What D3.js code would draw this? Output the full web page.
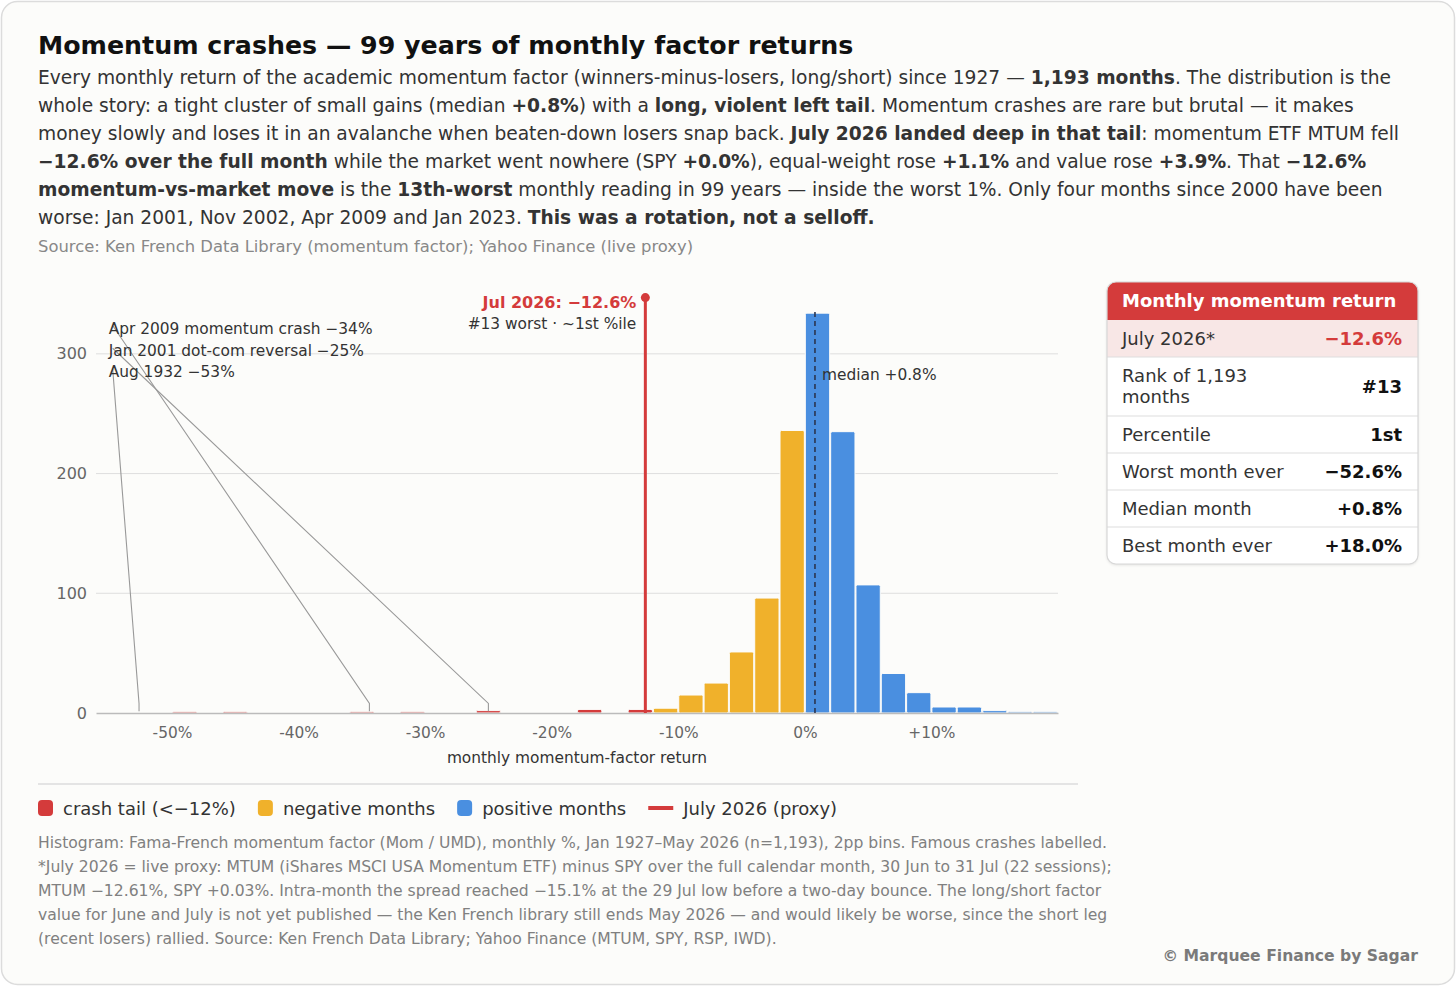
<!DOCTYPE html>
<html>
<head>
<meta charset="utf-8">
<script src="https://cdn.jsdelivr.net/npm/d3@7"></script>
<style>
  html, body { margin: 0; padding: 0; background: #ffffff; }
  svg { display: block; font-family: "DejaVu Sans", sans-serif; }
</style>
</head>
<body>
<div id="chart"></div>
<script>
// histogram data: lower edge of each 2pp bin, and month count
var binLows  = [-50, -46, -36, -32, -26, -18, -14, -12, -10, -8, -6, -4, -2,   0,   2,   4,  6,  8, 10, 12, 14, 16, 18];
var counts   = [  1,   1,   1,   1,   2,   3,   3,   4,  15, 25, 51, 96, 236, 334, 235, 107, 33, 17,  5,  5,  2,  1,  1];
var binWidth = 2;

var xTicks = [-50, -40, -30, -20, -10, 0, 10];
var xTickLabels = ["-50%", "-40%", "-30%", "-20%", "-10%", "0%", "+10%"];
var yTicks = [0, 100, 200, 300];

var medianValue = 0.8;
var julyValue = -12.6;

// famous crashes: label, value, label y (in counts)
var crashLabels = ["Apr 2009 momentum crash \u221234%", "Jan 2001 dot-com reversal \u221225%", "Aug 1932 \u221253%"];
var crashValues = [-34.4, -25.0, -52.6];
var crashLabelY = [317, 298, 281];

var tableLabels = ["July 2026*", "Rank of 1,193|months", "Percentile", "Worst month ever", "Median month", "Best month ever"];
var tableValues = ["\u221212.6%", "#13", "1st", "\u221252.6%", "+0.8%", "+18.0%"];

var legendLabels = ["crash tail (<\u221212%)", "negative months", "positive months", "July 2026 (proxy)"];

var RED = "#d43b3b", YELLOW = "#f0b12b", BLUE = "#4a8fe0";
var FS = 15.4; // chart text size

var W = 1456, H = 989;
var svg = d3.select("#chart").append("svg").attr("width", W).attr("height", H);

// card
svg.append("rect").attr("x", 1.5).attr("y", 1.5).attr("width", W - 3).attr("height", H - 6)
    .attr("rx", 16).attr("fill", "#fcfcfa").attr("stroke", "#dcdcdc").attr("stroke-width", 1.5);

// ---- header ----
svg.append("text").attr("x", 38).attr("y", 54)
    .attr("font-size", 25.3).attr("font-weight", "bold").attr("fill", "#111")
    .text("Momentum crashes \u2014 99 years of monthly factor returns");

var bodyLines = [
  [["Every monthly return of the academic momentum factor (winners-minus-losers, long/short) since 1927 \u2014 ", 0], ["1,193 months", 1], [". The distribution is the", 0]],
  [["whole story: a tight cluster of small gains (median ", 0], ["+0.8%", 1], [") with a ", 0], ["long, violent left tail", 1], [". Momentum crashes are rare but brutal \u2014 it makes", 0]],
  [["money slowly and loses it in an avalanche when beaten-down losers snap back. ", 0], ["July 2026 landed deep in that tail", 1], [": momentum ETF MTUM fell", 0]],
  [["\u221212.6% over the full month", 1], [" while the market went nowhere (SPY ", 0], ["+0.0%", 1], ["), equal-weight rose ", 0], ["+1.1%", 1], [" and value rose ", 0], ["+3.9%", 1], [". That ", 0], ["\u221212.6%", 1]],
  [["momentum-vs-market move", 1], [" is the ", 0], ["13th-worst", 1], [" monthly reading in 99 years \u2014 inside the worst 1%. Only four months since 2000 have been", 0]],
  [["worse: Jan 2001, Nov 2002, Apr 2009 and Jan 2023. ", 0], ["This was a rotation, not a selloff.", 1]]
];
bodyLines.forEach(function(segs, i) {
  var t = svg.append("text").attr("x", 38).attr("y", 84 + i * 28)
      .attr("font-size", 18.65).attr("fill", "#333");
  segs.forEach(function(s) {
    t.append("tspan").attr("font-weight", s[1] ? "bold" : "normal").text(s[0]);
  });
});

svg.append("text").attr("x", 38).attr("y", 252).attr("font-size", 16.4).attr("fill", "#888")
    .text("Source: Ken French Data Library (momentum factor); Yahoo Finance (live proxy)");

// ---- chart ----
var xScale = d3.scaleLinear().domain([-56, 20]).range([96, 1058]);
var yScale = d3.scaleLinear().domain([0, 350]).range([713, 294]);

var g = svg.append("g");

// gridlines
g.append("g").selectAll("line").data(yTicks.filter(function(d) { return d > 0; })).join("line")
    .attr("x1", xScale(-56)).attr("x2", xScale(20))
    .attr("y1", function(d) { return yScale(d); }).attr("y2", function(d) { return yScale(d); })
    .attr("stroke", "#dedede").attr("stroke-width", 1);

// y axis labels
var yAxis = g.append("g").attr("transform", "translate(" + (xScale(-56) - 9) + ",0)")
    .call(d3.axisLeft(yScale).tickValues(yTicks).tickSize(0).tickPadding(0));
yAxis.select(".domain").remove();
yAxis.selectAll("text").attr("font-size", 16).attr("fill", "#666").attr("font-family", "DejaVu Sans");

// bars
var bars = binLows.map(function(lo, i) { return {x0: lo, x1: lo + binWidth, n: counts[i]}; });
g.append("g").selectAll("rect").data(bars).join("rect")
    .attr("x", function(d) { return xScale(d.x0) + 0.5; })
    .attr("width", function(d) { return xScale(d.x1) - xScale(d.x0) - 1; })
    .attr("y", function(d) { return yScale(d.n); })
    .attr("height", function(d) { return yScale(0) - yScale(d.n); })
    .attr("rx", 1.5)
    .attr("stroke", "#fcfcfa").attr("stroke-width", 1)
    .attr("fill", function(d) { return d.x0 < -12 ? RED : (d.x0 < 0 ? YELLOW : BLUE); });

// x axis
var xAxis = g.append("g").attr("transform", "translate(0," + yScale(0) + ")")
    .call(d3.axisBottom(xScale).tickValues(xTicks).tickSize(0).tickPadding(14)
        .tickFormat(function(d, i) { return xTickLabels[i]; }));
xAxis.select(".domain").attr("stroke", "#bbb").attr("stroke-width", 1.5);
xAxis.selectAll("text").attr("font-size", FS).attr("fill", "#666").attr("font-family", "DejaVu Sans");

g.append("text").attr("x", (xScale(-56) + xScale(20)) / 2).attr("y", 763)
    .attr("text-anchor", "middle").attr("font-size", FS).attr("fill", "#333")
    .text("monthly momentum-factor return");

// median line
g.append("line").attr("x1", xScale(medianValue)).attr("x2", xScale(medianValue))
    .attr("y1", yScale(0)).attr("y2", yScale(337))
    .attr("stroke", "#2b3550").attr("stroke-width", 1.6).attr("stroke-dasharray", "5,4");
g.append("text").attr("x", xScale(medianValue) + 7).attr("y", yScale(278))
    .attr("font-size", FS).attr("fill", "#333").text("median +0.8%");

// crash annotations
crashValues.forEach(function(v, i) {
  var lx = xScale(-55.0), ly = yScale(crashLabelY[i]);
  g.append("polyline")
      .attr("points", [[lx + 4, ly - 8], [xScale(v), yScale(8)], [xScale(v), yScale(1.5)]].join(" "))
      .attr("fill", "none").attr("stroke", "#999").attr("stroke-width", 1.1);
  g.append("text").attr("x", lx).attr("y", ly).attr("font-size", FS).attr("fill", "#333").text(crashLabels[i]);
});

// July 2026 marker
var jx = xScale(julyValue);
g.append("line").attr("x1", jx).attr("x2", jx).attr("y1", yScale(0)).attr("y2", yScale(347))
    .attr("stroke", RED).attr("stroke-width", 3);
g.append("circle").attr("cx", jx).attr("cy", yScale(347)).attr("r", 4.5).attr("fill", RED);
g.append("text").attr("x", jx - 9).attr("y", yScale(338)).attr("text-anchor", "end")
    .attr("font-size", 16).attr("font-weight", "bold").attr("fill", RED).text("Jul 2026: \u221212.6%");
g.append("text").attr("x", jx - 9).attr("y", yScale(321)).attr("text-anchor", "end")
    .attr("font-size", FS).attr("fill", "#333").text("#13 worst \u00b7 ~1st %ile");

// separator
svg.append("line").attr("x1", 38).attr("x2", 1078).attr("y1", 784).attr("y2", 784)
    .attr("stroke", "#dcdcdc").attr("stroke-width", 1.5);

// legend
var legendColors = [RED, YELLOW, BLUE, RED];
var lg = svg.append("g").attr("transform", "translate(38,808)");
var lx0 = 0;
legendLabels.forEach(function(lab, i) {
  var item = lg.append("g").attr("transform", "translate(" + lx0 + ",0)");
  var sw;
  if (i < 3) {
    item.append("rect").attr("x", 0).attr("y", -8).attr("width", 15).attr("height", 16).attr("rx", 4)
        .attr("fill", legendColors[i]);
    sw = 15;
  } else {
    item.append("rect").attr("x", 0).attr("y", -2).attr("width", 25).attr("height", 4).attr("fill", legendColors[i]);
    sw = 25;
  }
  var t = item.append("text").attr("x", sw + 10).attr("y", 7).attr("font-size", 18).attr("fill", "#333").text(lab);
  lx0 += sw + 10 + t.node().getComputedTextLength() + 22;
});

// footnote
var notes = [
  "Histogram: Fama-French momentum factor (Mom / UMD), monthly %, Jan 1927\u2013May 2026 (n=1,193), 2pp bins. Famous crashes labelled.",
  "*July 2026 = live proxy: MTUM (iShares MSCI USA Momentum ETF) minus SPY over the full calendar month, 30 Jun to 31 Jul (22 sessions);",
  "MTUM \u221212.61%, SPY +0.03%. Intra-month the spread reached \u221215.1% at the 29 Jul low before a two-day bounce. The long/short factor",
  "value for June and July is not yet published \u2014 the Ken French library still ends May 2026 \u2014 and would likely be worse, since the short leg",
  "(recent losers) rallied. Source: Ken French Data Library; Yahoo Finance (MTUM, SPY, RSP, IWD)."
];
notes.forEach(function(n, i) {
  svg.append("text").attr("x", 38).attr("y", 848 + i * 24).attr("font-size", 15.6).attr("fill", "#808080").text(n);
});

svg.append("text").attr("x", 1418).attr("y", 961).attr("text-anchor", "end")
    .attr("font-size", 15.6).attr("font-weight", "bold").attr("fill", "#7a7a7a")
    .text("\u00a9 Marquee Finance by Sagar");

// ---- stats table ----
var tx = 1107, ty = 282, tw = 311, headH = 38;
var rowH = [37, 59, 37, 37, 37, 37];
var tH = headH + d3.sum(rowH);
var defs = svg.append("defs");
defs.append("clipPath").attr("id", "tclip").append("rect")
    .attr("x", tx).attr("y", ty).attr("width", tw).attr("height", tH).attr("rx", 9);
defs.append("filter").attr("id", "shadow").attr("x", "-10%").attr("y", "-10%").attr("width", "120%").attr("height", "120%")
    .append("feDropShadow").attr("dx", 0).attr("dy", 1).attr("stdDeviation", 1.5).attr("flood-opacity", 0.12);

svg.append("rect").attr("x", tx).attr("y", ty).attr("width", tw).attr("height", tH).attr("rx", 9)
    .attr("fill", "#fff").attr("filter", "url(#shadow)");
var tg = svg.append("g").attr("clip-path", "url(#tclip)");
tg.append("rect").attr("x", tx).attr("y", ty).attr("width", tw).attr("height", headH).attr("fill", RED);
tg.append("text").attr("x", tx + 15).attr("y", ty + 25).attr("font-size", 18).attr("font-weight", "bold")
    .attr("fill", "#fff").text("Monthly momentum return");

var ry = ty + headH;
tableLabels.forEach(function(lab, i) {
  var h = rowH[i];
  tg.append("rect").attr("x", tx).attr("y", ry).attr("width", tw).attr("height", h)
      .attr("fill", i === 0 ? "#f8e7e6" : "#ffffff");
  if (i > 0) {
    tg.append("line").attr("x1", tx).attr("x2", tx + tw).attr("y1", ry).attr("y2", ry)
        .attr("stroke", "#dedede").attr("stroke-width", 1.2);
  }
  var parts = lab.split("|");
  var mid = ry + h / 2;
  parts.forEach(function(p, k) {
    tg.append("text").attr("x", tx + 15).attr("y", mid + 6 + (k - (parts.length - 1) / 2) * 21)
        .attr("font-size", 18).attr("fill", "#333").text(p);
  });
  tg.append("text").attr("x", tx + tw - 16).attr("y", mid + 6).attr("text-anchor", "end")
      .attr("font-size", 18).attr("font-weight", "bold").attr("fill", i === 0 ? RED : "#111")
      .text(tableValues[i]);
  ry += h;
});
svg.append("rect").attr("x", tx).attr("y", ty).attr("width", tw).attr("height", tH).attr("rx", 9)
    .attr("fill", "none").attr("stroke", "#d8d8d8").attr("stroke-width", 1.2);
</script>
</body>
</html>
